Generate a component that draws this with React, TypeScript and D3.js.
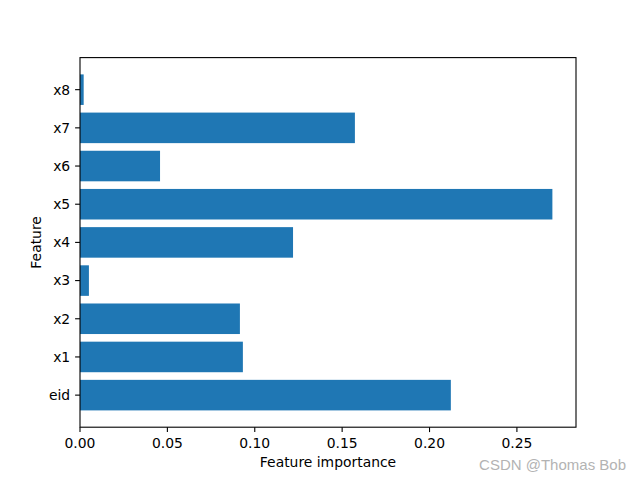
import React from "react";
import * as d3 from "d3";

const features = ["eid", "x1", "x2", "x3", "x4", "x5", "x6", "x7", "x8"];
const importance = [0.2122, 0.0932, 0.0915, 0.0051, 0.1219, 0.2703, 0.0458, 0.1573, 0.0021];
const xTicks = [0, 0.05, 0.1, 0.15, 0.2, 0.25];

export default function App() {
  const W = 640, H = 480;
  const left = 80, right = 576, top = 57.6, bottom = 427.2;
  const maxV = d3.max(importance) as number;
  const x = d3.scaleLinear().domain([0, maxV * 1.05]).range([left, right]);
  const n = features.length;
  const yMin = -0.4 - 0.05 * (n - 1 + 0.8);
  const yMax = n - 1 + 0.4 + 0.05 * (n - 1 + 0.8);
  const y = d3.scaleLinear().domain([yMin, yMax]).range([bottom, top]);
  const font = "DejaVu Sans, sans-serif";
  const fs = 13.9;
  return (
    <svg width={W} height={H} style={{ position: "absolute", left: 0, top: 0 }} fontFamily={font}>
      <rect x={0} y={0} width={W} height={H} fill="white" />
      {importance.map((v, i) => (
        <rect key={i} x={x(0)} y={y(i + 0.4)} width={x(v) - x(0)} height={y(i - 0.4) - y(i + 0.4)} fill="#1f77b4" />
      ))}
      <rect x={left} y={top} width={right - left} height={bottom - top} fill="none" stroke="black" strokeWidth={1.1} />
      {xTicks.map((t) => (
        <g key={t}>
          <line x1={x(t)} x2={x(t)} y1={bottom} y2={bottom + 4.9} stroke="black" strokeWidth={1.1} />
          <text x={x(t)} y={bottom + 4.9 + 4.9 + 11} textAnchor="middle" fontSize={fs} fill="black">{t.toFixed(2)}</text>
        </g>
      ))}
      {features.map((f, i) => (
        <g key={f}>
          <line x1={left - 4.9} x2={left} y1={y(i)} y2={y(i)} stroke="black" strokeWidth={1.1} />
          <text x={left - 4.9 - 4.9} y={y(i)} dy="0.35em" textAnchor="end" fontSize={fs} fill="black">{f}</text>
        </g>
      ))}
      <text x={(left + right) / 2} y={467} textAnchor="middle" fontSize={fs} fill="black">Feature importance</text>
      <text transform={`translate(41, ${(top + bottom) / 2}) rotate(-90)`} textAnchor="middle" fontSize={fs} fill="black">Feature</text>
      <text x={626} y={470} textAnchor="end" fontSize={15} fill="#b3b3b3" fontFamily="Liberation Sans, Arial, sans-serif">CSDN @Thomas Bob</text>
    </svg>
  );
}
